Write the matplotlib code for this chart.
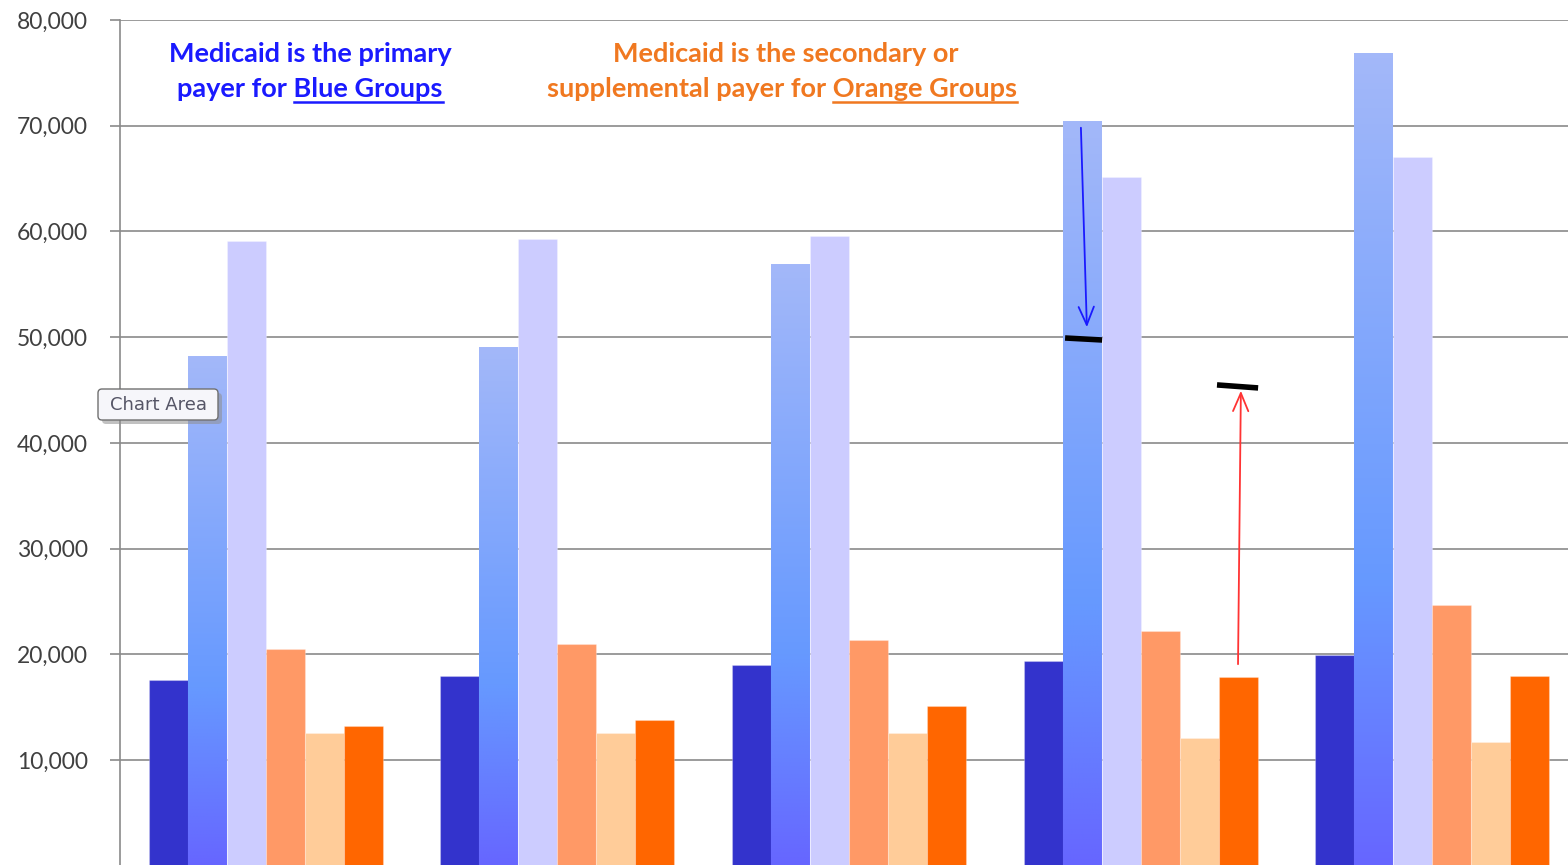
import matplotlib
matplotlib.use("Agg")
import matplotlib.pyplot as plt
import numpy as np
from matplotlib.colors import LinearSegmentedColormap
from matplotlib.patches import FancyBboxPatch

# six series per group, five groups
series_names = ["Blue 1", "Blue 2", "Blue 3", "Orange 1", "Orange 2", "Orange 3"]
series_colors = ["#3333cc", None, "#ccccff", "#ff9966", "#ffcc99", "#ff6600"]

blue_1 = [17570, 17950, 18990, 19370, 19930]
blue_2 = [48220, 49070, 56920, 70450, 76880]
blue_3 = [59100, 59290, 59570, 65150, 67040]
orange_1 = [20500, 20970, 21350, 22200, 24660]
orange_2 = [12550, 12550, 12550, 12080, 11700]
orange_3 = [13220, 13780, 15110, 17850, 17950]

values = [blue_1, blue_2, blue_3, orange_1, orange_2, orange_3]
y_ticks = [10000, 20000, 30000, 40000, 50000, 60000, 70000, 80000]

# hand-drawn marks on group 4
blue_arrow = [(2.795, 70070), (2.816, 50680)]
blue_mark = [(2.741, 49920), (2.868, 49730)]
red_arrow = [(3.334, 18800), (3.344, 45190)]
red_mark = [(3.262, 45480), (3.403, 45195)]

W, H = 1568, 865
fig = plt.figure(figsize=(W / 100, H / 100), dpi=100)
fig.patch.set_facecolor("white")

def fx(x):
    return x / W

def fy(y):
    return 1 - y / H

# axes: left spine at x=120, 80,000 at y=20, zero just under the bottom edge
ax = fig.add_axes([fx(120), fy(865.7), (1578 - 120) / W, (865.7 - 20) / H])

n_groups = len(blue_1)
x = np.arange(n_groups)
bw = 0.1337

grad = LinearSegmentedColormap.from_list(
    "bluegrad", [(0.0, "#6666ff"), (0.35, "#6699ff"), (1.0, "#a3b8f9")])
g = np.linspace(0, 1, 256).reshape(-1, 1)

for i, (vals, col) in enumerate(zip(values, series_colors)):
    pos = x + (i - 2.5) * bw
    if col is None:
        bars = ax.bar(pos, vals, bw, color="none", edgecolor="none", zorder=3)
        for b in bars:
            x0 = b.get_x()
            ax.imshow(g, cmap=grad, origin="lower", aspect="auto",
                      extent=(x0, x0 + b.get_width(), 0, b.get_height()),
                      zorder=3, interpolation="bilinear")
    else:
        ax.bar(pos, vals, bw, color=col, edgecolor=(1, 1, 1, 0.25),
               linewidth=0.8, zorder=3)

ax.set_xlim(-0.5, n_groups - 0.5)
ax.set_ylim(0, 80000)
ax.set_yticks(y_ticks)
ax.set_yticklabels([f"{v:,}" for v in y_ticks], fontfamily="Lato",
                   fontsize=16.5, color="#404040")
ax.set_xticks([])
ax.yaxis.grid(True, color="#8a8a8a", linewidth=1.2, zorder=0)
ax.set_axisbelow(True)
ax.tick_params(axis="y", length=7, width=1.2, color="#8a8a8a", pad=16)
for s in ["top", "right", "bottom"]:
    ax.spines[s].set_visible(False)
ax.spines["left"].set_color("#8a8a8a")
ax.spines["left"].set_linewidth(1.2)
ax.spines["left"].set_zorder(4)

# arrows and black ticks
ax.annotate("", xy=blue_arrow[1], xytext=blue_arrow[0], zorder=6,
            arrowprops=dict(arrowstyle="->,head_length=1.3,head_width=0.55",
                            color="#1a1aff", lw=1.3))
ax.plot(*zip(*blue_mark), color="black", lw=4, solid_capstyle="butt", zorder=6)
ax.annotate("", xy=red_arrow[1], xytext=red_arrow[0], zorder=6,
            arrowprops=dict(arrowstyle="->,head_length=1.3,head_width=0.55",
                            color="#ff3333", lw=1.3))
ax.plot(*zip(*red_mark), color="black", lw=4, solid_capstyle="butt", zorder=6)

renderer = fig.canvas.get_renderer()


def text_line(cx, y, prefix, word, color, size):
    full = prefix + word
    t = fig.text(fx(cx), fy(y), full, ha="center", va="baseline",
                 fontfamily="Lato", fontweight="bold", fontsize=size,
                 color=color, zorder=7)
    if not word:
        return
    bb = t.get_window_extent(renderer)
    tmp = fig.text(0, 0, prefix.rstrip() + " ", fontfamily="Lato",
                   fontweight="bold", fontsize=size)
    wp = tmp.get_window_extent(renderer).width
    tmp.remove()
    x0 = bb.x0 + wp
    x1 = bb.x1
    uy = fy(y + 5)
    fig.add_artist(plt.Line2D([x0 / W, x1 / W], [uy, uy], color=color, lw=1.8))


blue_txt = "#1a1aff"
orange_txt = "#f07820"
text_line(310, 62, "Medicaid is the primary", "", blue_txt, 19.5)
text_line(310, 97, "payer for ", "Blue Groups", blue_txt, 19.5)
text_line(786, 62, "Medicaid is the secondary or", "", orange_txt, 19.5)
text_line(782, 97, "supplemental payer for ", "Orange Groups", orange_txt, 19.5)

# tooltip box with a soft drop shadow
bx0, bx1, by0, by1 = 98, 218, 389, 420
r = 4
shadow = FancyBboxPatch((fx(bx0 + 4), fy(by1 + 4)), fx(bx1 - bx0), (by1 - by0) / H,
                        boxstyle=f"round,pad=0,rounding_size={r / W}",
                        transform=fig.transFigure, fc="#8f8f8f", ec="none",
                        alpha=0.55, zorder=8, mutation_aspect=W / H)
box = FancyBboxPatch((fx(bx0), fy(by1)), fx(bx1 - bx0), (by1 - by0) / H,
                     boxstyle=f"round,pad=0,rounding_size={r / W}",
                     transform=fig.transFigure, fc="#f6f6fa", ec="#707070",
                     lw=1, zorder=9, mutation_aspect=W / H)
fig.add_artist(shadow)
fig.add_artist(box)
fig.text(fx((bx0 + bx1) / 2), fy((by0 + by1) / 2), "Chart Area",
         ha="center", va="center", fontfamily="DejaVu Sans", fontsize=13,
         color="#555566", zorder=10)

fig.savefig("out.png", dpi=100)
